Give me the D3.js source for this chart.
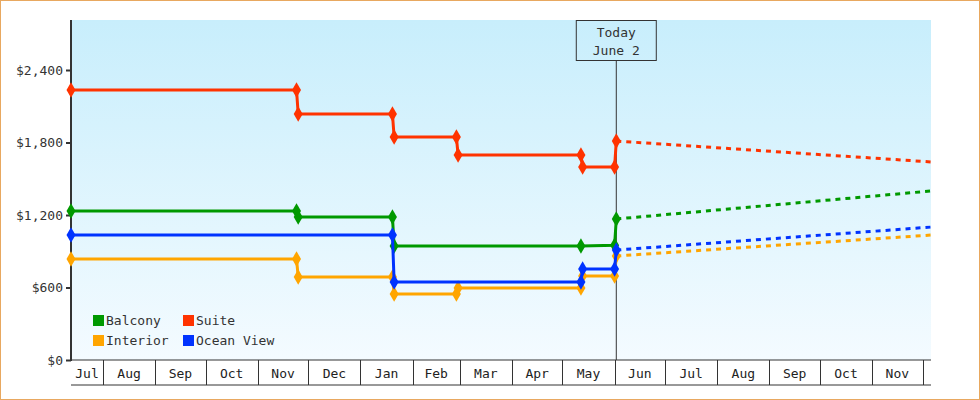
<!DOCTYPE html>
<html><head><meta charset="utf-8">
<script src="https://cdn.jsdelivr.net/npm/d3@7"></script>
<style>
body { margin: 0; }
svg { font-family: "DejaVu Sans Mono", monospace; }
</style></head>
<body><svg id="chart" width="980" height="400"></svg>
<script>
var parse = d3.timeParse( '%Y-%m-%d' );

// series: [date, price] pairs, past (solid) and forecast (dashed)
var suite = [ [ '2012-07-13', 2235 ], [ '2012-11-24', 2235 ], [ '2012-11-25', 2036 ], [ '2013-01-20', 2036 ],
	[ '2013-01-21', 1845 ], [ '2013-02-27', 1845 ], [ '2013-02-28', 1697 ], [ '2013-05-12', 1697 ],
	[ '2013-05-13', 1597 ], [ '2013-06-01', 1597 ], [ '2013-06-02', 1812 ] ];
var balcony = [ [ '2012-07-13', 1233 ], [ '2012-11-24', 1233 ], [ '2012-11-25', 1183 ], [ '2013-01-20', 1183 ],
	[ '2013-01-21', 943 ], [ '2013-05-12', 943 ], [ '2013-06-01', 950 ], [ '2013-06-02', 1167 ] ];
var oceanView = [ [ '2012-07-13', 1034 ], [ '2013-01-20', 1034 ], [ '2013-01-21', 645 ], [ '2013-05-12', 645 ],
	[ '2013-05-13', 753 ], [ '2013-06-01', 753 ], [ '2013-06-02', 910 ] ];
var interior = [ [ '2012-07-13', 836 ], [ '2012-11-24', 836 ], [ '2012-11-25', 687 ], [ '2013-01-20', 687 ],
	[ '2013-01-21', 546 ], [ '2013-02-27', 546 ], [ '2013-02-28', 596 ], [ '2013-05-12', 596 ],
	[ '2013-05-13', 695 ], [ '2013-06-01', 695 ], [ '2013-06-02', 861 ] ];
var forecastEnd = { Suite: 1639, Balcony: 1399, 'Ocean View': 1100, Interior: 1034 };
var yTicks = [ 0, 600, 1200, 1800, 2400 ];

var series = [
	{ name: 'Balcony', color: '#009900', data: balcony },
	{ name: 'Suite', color: '#ff3300', data: suite },
	{ name: 'Interior', color: '#ffa500', data: interior },
	{ name: 'Ocean View', color: '#0033ff', data: oceanView }
];
var drawOrder = [ 'Suite', 'Balcony', 'Interior', 'Ocean View' ];

var start = parse( '2012-07-13' ), end = parse( '2013-12-06' ), today = parse( '2013-06-02' );
var plotLeft = 71, plotRight = 931, plotTop = 20, plotBottom = 360;

var svg = d3.select( '#chart' );
var x = d3.scaleTime().domain( [ start, end ] ).range( [ plotLeft, plotRight ] );
var y = d3.scaleLinear().domain( [ 0, 2400 ] ).range( [ plotBottom, 70 ] );

var grad = svg.append( 'defs' ).append( 'linearGradient' )
	.attr( 'id', 'bg' ).attr( 'x1', 0 ).attr( 'y1', 0 ).attr( 'x2', 0 ).attr( 'y2', 1 );
grad.append( 'stop' ).attr( 'offset', 0 ).attr( 'stop-color', '#c8eefc' );
grad.append( 'stop' ).attr( 'offset', 1 ).attr( 'stop-color', '#f4fbff' );

svg.append( 'rect' ).attr( 'x', 0.5 ).attr( 'y', 0.5 ).attr( 'width', 979 ).attr( 'height', 399 )
	.attr( 'fill', '#fff' ).attr( 'stroke', '#e8a860' );
svg.append( 'rect' ).attr( 'x', plotLeft ).attr( 'y', plotTop ).attr( 'width', plotRight - plotLeft ).attr( 'height', plotBottom - plotTop )
	.attr( 'fill', 'url(#bg)' );

// y axis
var yAxis = svg.append( 'g' ).attr( 'transform', 'translate(' + plotLeft + ',0)' )
	.call( d3.axisLeft( y ).tickValues( yTicks ).tickSize( 5 ).tickFormat( d3.format( '$,' ) ) );
yAxis.select( '.domain' ).remove();
yAxis.selectAll( 'text' ).attr( 'font-size', 13 ).attr( 'fill', '#333' ).attr( 'font-family', 'DejaVu Sans Mono' );
yAxis.selectAll( 'line' ).attr( 'stroke', '#333' ).attr( 'stroke-width', 2 );
svg.append( 'line' ).attr( 'x1', plotLeft ).attr( 'x2', plotLeft ).attr( 'y1', plotTop ).attr( 'y2', plotBottom + 1 )
	.attr( 'stroke', '#333' ).attr( 'stroke-width', 2 );

// x axis: month bands
var months = d3.timeMonth.range( d3.timeMonth.floor( start ), end );
var xg = svg.append( 'g' );
xg.append( 'line' ).attr( 'x1', plotLeft ).attr( 'x2', plotRight ).attr( 'y1', plotBottom ).attr( 'y2', plotBottom ).attr( 'stroke', '#333' );
xg.append( 'line' ).attr( 'x1', plotLeft ).attr( 'x2', plotRight ).attr( 'y1', 385 ).attr( 'y2', 385 ).attr( 'stroke', '#333' );
xg.selectAll( '.sep' ).data( months.filter( function ( m ) { return m > start; } ) ).enter()
	.append( 'line' ).attr( 'x1', function ( d ) { return Math.round( x( d ) ) + 0.5; } )
	.attr( 'x2', function ( d ) { return Math.round( x( d ) ) + 0.5; } )
	.attr( 'y1', plotBottom ).attr( 'y2', 385 ).attr( 'stroke', '#333' );
xg.selectAll( '.lbl' ).data( months.filter( function ( m ) { return d3.timeMonth.offset( m, 1 ) < end; } ) ).enter()
	.append( 'text' )
	.attr( 'x', function ( d ) {
		var a = Math.max( x( d ), plotLeft ), b = x( d3.timeMonth.offset( d, 1 ) );
		return ( a + b ) / 2;
	} )
	.attr( 'y', 378 ).attr( 'text-anchor', 'middle' ).attr( 'font-size', 13 ).attr( 'fill', '#222' )
	.text( d3.timeFormat( '%b' ) );

// today marker
svg.append( 'line' ).attr( 'x1', x( today ) ).attr( 'x2', x( today ) ).attr( 'y1', 60 ).attr( 'y2', plotBottom )
	.attr( 'stroke', '#333' );
svg.append( 'rect' ).attr( 'x', x( today ) - 40 ).attr( 'y', 20.5 ).attr( 'width', 80 ).attr( 'height', 40 )
	.attr( 'fill', 'none' ).attr( 'stroke', '#333' );
svg.append( 'text' ).attr( 'x', x( today ) ).attr( 'y', 37 ).attr( 'text-anchor', 'middle' ).attr( 'font-size', 13 ).attr( 'fill', '#333' ).text( 'Today' );
svg.append( 'text' ).attr( 'x', x( today ) ).attr( 'y', 55 ).attr( 'text-anchor', 'middle' ).attr( 'font-size', 13 ).attr( 'fill', '#333' ).text( 'June 2' );

var line = d3.line()
	.x( function ( d ) { return x( parse( d[ 0 ] ) ); } )
	.y( function ( d ) { return y( d[ 1 ] ); } );
var diamond = d3.symbol().type( d3.symbolDiamond ).size( 70 );

drawOrder.forEach( function ( name ) {
	var s = series.filter( function ( t ) { return t.name === name; } )[ 0 ];
	var last = s.data[ s.data.length - 1 ];
	svg.append( 'path' ).attr( 'd', line( [ last, [ '2013-12-06', forecastEnd[ name ] ] ] ) )
		.attr( 'fill', 'none' ).attr( 'stroke', s.color ).attr( 'stroke-width', 3 ).attr( 'stroke-dasharray', '5,5' );
	svg.append( 'path' ).attr( 'd', line( s.data ) )
		.attr( 'fill', 'none' ).attr( 'stroke', s.color ).attr( 'stroke-width', 3 );
	svg.selectAll( null ).data( s.data ).enter().append( 'path' )
		.attr( 'd', diamond ).attr( 'fill', s.color )
		.attr( 'transform', function ( d ) { return 'translate(' + x( parse( d[ 0 ] ) ) + ',' + y( d[ 1 ] ) + ')'; } );
} );

// legend
var lg = svg.append( 'g' ).selectAll( 'g' ).data( series ).enter().append( 'g' )
	.attr( 'transform', function ( d, i ) { return 'translate(' + ( 93 + ( i % 2 ) * 90 ) + ',' + ( 315 + Math.floor( i / 2 ) * 20 ) + ')'; } );
lg.append( 'rect' ).attr( 'width', 11 ).attr( 'height', 11 ).attr( 'fill', function ( d ) { return d.color; } );
lg.append( 'text' ).attr( 'x', 13 ).attr( 'y', 10 ).attr( 'font-size', 13 ).attr( 'fill', '#333' )
	.text( function ( d ) { return d.name; } );
</script></body></html>
